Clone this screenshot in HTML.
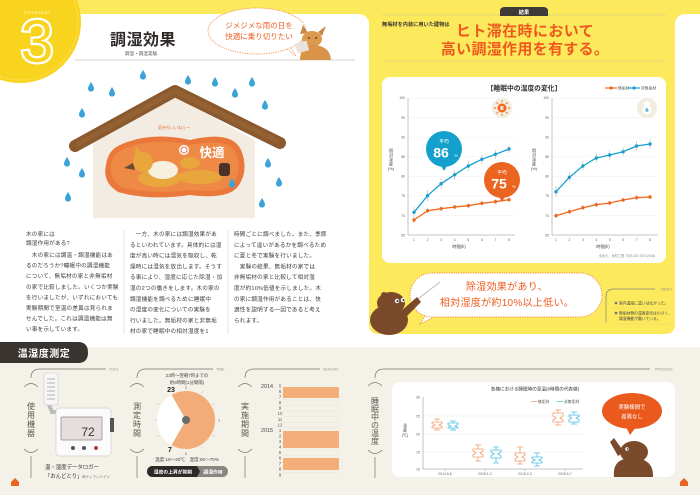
<!DOCTYPE html>
<html><head><meta charset="utf-8"><style>
html,body{margin:0;padding:0;background:#fff;}
svg{display:block;}
text{font-family:"Liberation Sans","Noto Sans CJK JP",sans-serif;}
</style></head><body>
<svg width="700" height="495" viewBox="0 0 700 495" xmlns="http://www.w3.org/2000/svg">
<defs>
<path id="drop" d="M0,-5 Q3,-0.5 3,1.6 A3,3 0 0 1 -3,1.6 Q-3,-0.5 0,-5 Z" fill="#3aa3d8"/>
</defs>
<!-- backgrounds -->
<rect width="700" height="495" fill="#fff"/>
<rect x="0" y="0" width="700" height="14" fill="#fde95c"/>
<path d="M369,0 H675 V324 Q675,334 665,334 H379 Q369,334 369,324 Z" fill="#fde95c"/>
<path d="M359,14 L369,14 L369,24 A10,10 0 0 0 359,14 Z" fill="#fde95c"/>
<path d="M685,14 L675,14 L675,24 A10,10 0 0 1 685,14 Z" fill="#fde95c"/>
<rect x="0" y="347" width="700" height="148" fill="#f4f1e8"/>

<!-- header left -->
<line x1="75" y1="60" x2="355" y2="60" stroke="#e4e2dc" stroke-width="1.5"/>
<circle cx="20" cy="22" r="61" fill="#f8d41f"/>
<circle cx="20" cy="22" r="58" fill="none" stroke="#fff5b8" stroke-width="0.8" stroke-dasharray="0.8 1.6"/>
<text x="37" y="14" font-size="3.6" fill="#fff7c4" text-anchor="middle" letter-spacing="0.3">EXPERIMENT</text>
<text x="37" y="62" font-size="60" fill="#f8d41f" stroke="#fff" stroke-width="4" paint-order="stroke" text-anchor="middle">3</text>
<text x="37" y="62" font-size="60" fill="none" stroke="#fff" stroke-width="0.6" text-anchor="middle" opacity="0.8">3</text>
<text x="143" y="45" font-size="16" font-weight="bold" fill="#2e2a28" text-anchor="middle" letter-spacing="0.5">調湿効果</text>
<text x="141" y="55" font-size="4.6" fill="#555" text-anchor="middle">調温・調湿実験</text>

<!-- top speech bubble -->
<path d="M287,49 L296,56 L289,45 Z" fill="#fff" stroke="#f08a4a" stroke-width="0.8" stroke-dasharray="1.2 1.2"/>
<ellipse cx="257" cy="31" rx="49" ry="23" fill="#fff" stroke="#f08a4a" stroke-width="0.9" stroke-dasharray="1.2 1.2"/>
<text x="259" y="28" font-size="7.5" fill="#ee5d22" text-anchor="middle">ジメジメな雨の日を</text>
<text x="259" y="39" font-size="7.5" fill="#ee5d22" text-anchor="middle">快適に乗り切りたい</text>
<!-- fox top -->
<g>
<path d="M300,34 L303,25 L308,33 Z" fill="#c98a45"/>
<path d="M318,32 L326,26 L322,36 Z" fill="#c98a45"/>
<ellipse cx="312" cy="39" rx="10" ry="8" fill="#dc9a4c"/>
<path d="M300,60 Q300,44 314,45 Q330,46 331,60 Z" fill="#d9944a"/>
<rect x="296" y="42" width="12" height="10" fill="#e8e4dc" transform="rotate(-15 302 47)"/>
<circle cx="309" cy="38" r="0.9" fill="#333"/><circle cx="316" cy="38" r="0.9" fill="#333"/>
</g>

<!-- house illustration -->
<polygon points="93,140 175,97 255,140 255,218 93,218" fill="#f3ece2"/>
<path d="M120,145 Q150,131 190,140 Q232,130 241,150 Q249,170 239,185 Q230,200 190,195 Q150,201 118,192 Q102,182 106,165 Q108,150 120,145 Z" fill="#e9783a"/>
<path d="M124,149 Q152,137 190,145 Q228,137 236,153 Q242,170 234,182 Q226,194 190,190 Q152,195 121,187 Q109,179 111,165 Q113,153 124,149 Z" fill="#ef8a46"/>
<!-- fox sleeping -->
<ellipse cx="160" cy="178" rx="22" ry="9" fill="#e8a63c"/>
<ellipse cx="163" cy="170" rx="15" ry="9" fill="#f6f0dc"/>
<circle cx="143" cy="162" r="10" fill="#e8a63c"/>
<path d="M134,158 L136,146 L142,154 Z" fill="#e8a63c"/>
<path d="M124,168 L133,163 L135,170 Z" fill="#6a4a33"/>
<ellipse cx="200" cy="177" rx="22" ry="7" fill="#e8a63c"/>
<ellipse cx="190" cy="163" rx="10" ry="6" fill="#e8a63c"/>
<rect x="219" y="163" width="11" height="13" rx="3" fill="#4b3127"/>
<circle cx="184" cy="150" r="5" fill="#fff"/><circle cx="184" cy="150" r="3" fill="none" stroke="#d9452a" stroke-width="0.8"/>
<text x="212" y="157" font-size="12.5" font-weight="bold" fill="#fff" text-anchor="middle">快適</text>
<text x="174" y="129" font-size="4" fill="#e0733a" text-anchor="middle">気持ちいいねぇ〜</text>
<path d="M75,146 L175,91 L280,143" fill="none" stroke="#8a5a2e" stroke-width="12" stroke-linecap="round" stroke-linejoin="round"/>
<path d="M78,144 L175,91 L277,141" fill="none" stroke="#9a6636" stroke-width="5" stroke-linecap="round" stroke-linejoin="round" opacity="0.6"/>
<!-- raindrops -->
<use href="#drop" x="143" y="75"/><use href="#drop" x="91" y="87"/><use href="#drop" x="112" y="92"/>
<use href="#drop" x="188" y="80"/><use href="#drop" x="215" y="82"/><use href="#drop" x="235" y="93"/>
<use href="#drop" x="252" y="82"/><use href="#drop" x="265" y="105"/><use href="#drop" x="82" y="113"/>
<use href="#drop" x="67" y="162"/><use href="#drop" x="82" y="173"/><use href="#drop" x="68" y="197"/>
<use href="#drop" x="268" y="163"/><use href="#drop" x="279" y="182"/><use href="#drop" x="262" y="203"/>
<use href="#drop" x="232" y="183"/>

<!-- body text columns -->
<g font-size="5.6" fill="#3f3b38" letter-spacing="0.2">
<text x="26" y="236">木の家には</text>
<text x="26" y="245">調湿作用がある?</text>
<text x="26" y="257">　木の家には調温・調湿機能はあ</text>
<text x="26" y="267.6">るのだろうか?睡眠中の調湿機能</text>
<text x="26" y="278.2">について、無垢材の家と非無垢材</text>
<text x="26" y="288.8">の家で比較しました。いくつか実験</text>
<text x="26" y="299.4">を行いましたが、いずれにおいても</text>
<text x="26" y="310">実験期間で室温の差異は見られま</text>
<text x="26" y="320.6">せんでした。これは調温機能は無</text>
<text x="26" y="331.2">い事を示しています。</text>

<text x="130" y="236">　一方、木の家には調湿効果があ</text>
<text x="130" y="246.8">るといわれています。具体的には湿</text>
<text x="130" y="257.6">度が高い時には湿気を吸収し、乾</text>
<text x="130" y="268.4">燥時には湿気を放出します。そうす</text>
<text x="130" y="279.2">る事により、湿度に応じた除湿・加</text>
<text x="130" y="290">湿の2つの働きをします。木の家の</text>
<text x="130" y="300.8">調湿機能を調べるために睡眠中</text>
<text x="130" y="311.6">の湿度の変化についての実験を</text>
<text x="130" y="322.4">行いました。無垢材の家と非無垢</text>
<text x="130" y="333.2">材の家で睡眠中の相対湿度を1</text>

<text x="234" y="236">時間ごとに調べました。また、季節</text>
<text x="234" y="246.8">によって違いがあるかを調べるため</text>
<text x="234" y="257.6">に夏と冬で実験を行いました。</text>
<text x="234" y="268.4">　実験の結果、無垢材の家では</text>
<text x="234" y="279.2">非無垢材の家と比較して相対湿</text>
<text x="234" y="290">度が約10%低値を示しました。木</text>
<text x="234" y="300.8">の家に調湿作用があることは、快</text>
<text x="234" y="311.6">適性を説明する一因であると考え</text>
<text x="234" y="322.4">られます。</text>
</g>
<line x1="124" y1="230" x2="124" y2="334" stroke="#d8d6d2" stroke-width="0.6"/>
<line x1="228" y1="230" x2="228" y2="334" stroke="#d8d6d2" stroke-width="0.6"/>

<!-- right page header -->
<line x1="382" y1="15" x2="666" y2="15" stroke="#d9cf8a" stroke-width="0.8"/>
<line x1="382" y1="61" x2="666" y2="61" stroke="#d9cf8a" stroke-width="0.8"/>
<path d="M500,16 V11 Q500,7 505,7 H543 Q548,7 548,11 V16 Z" fill="#3d3a38"/>
<text x="524" y="14" font-size="5.2" fill="#fff" text-anchor="middle" font-weight="bold">結果</text>
<text x="382" y="26" font-size="5.2" fill="#3a3530" font-weight="bold">無垢材を内装に用いた建物は</text>
<text x="525" y="36" font-size="15" font-weight="bold" fill="#ee5a1e" text-anchor="middle" letter-spacing="0.4">ヒト滞在時において</text>
<text x="525" y="54" font-size="15" font-weight="bold" fill="#ee5a1e" text-anchor="middle" letter-spacing="0.3">高い調湿作用を有する。</text>

<!-- chart card -->
<rect x="382" y="77" width="284" height="186" rx="8" fill="#fff"/>
<text x="524" y="90.5" font-size="6.8" font-weight="bold" fill="#333" text-anchor="middle">【睡眠中の湿度の変化】</text>
<line x1="605" y1="88" x2="617" y2="88" stroke="#ee6a22" stroke-width="1.2"/><circle cx="611" cy="88" r="1.6" fill="#ee6a22"/>
<text x="618" y="89.5" font-size="3.8" fill="#555">無垢材</text>
<line x1="628" y1="88" x2="640" y2="88" stroke="#19a0cf" stroke-width="1.2"/><circle cx="634" cy="88" r="1.6" fill="#19a0cf"/>
<text x="641" y="89.5" font-size="3.8" fill="#555">非無垢材</text>

<!-- left chart -->
<g stroke="#f0efec" stroke-width="0.5">
<line x1="408" y1="98" x2="515" y2="98"/><line x1="408" y1="117.6" x2="515" y2="117.6"/><line x1="408" y1="137.2" x2="515" y2="137.2"/><line x1="408" y1="156.8" x2="515" y2="156.8"/><line x1="408" y1="176.4" x2="515" y2="176.4"/><line x1="408" y1="196" x2="515" y2="196"/><line x1="408" y1="215.6" x2="515" y2="215.6"/>
<line x1="552" y1="98" x2="658" y2="98"/><line x1="552" y1="117.6" x2="658" y2="117.6"/><line x1="552" y1="137.2" x2="658" y2="137.2"/><line x1="552" y1="156.8" x2="658" y2="156.8"/><line x1="552" y1="176.4" x2="658" y2="176.4"/><line x1="552" y1="196" x2="658" y2="196"/><line x1="552" y1="215.6" x2="658" y2="215.6"/>
</g>
<g stroke="#888" stroke-width="0.5">
<line x1="408" y1="98" x2="408" y2="235"/><line x1="408" y1="235" x2="515" y2="235"/>
<line x1="552" y1="98" x2="552" y2="235"/><line x1="552" y1="235" x2="658" y2="235"/>
</g>
<g font-size="3.4" fill="#666" text-anchor="end">
<text x="405" y="99.2">100</text><text x="405" y="118.8">95</text><text x="405" y="138.4">90</text><text x="405" y="158">85</text><text x="405" y="177.6">80</text><text x="405" y="197.2">75</text><text x="405" y="216.8">70</text><text x="405" y="236.4">65</text>
<text x="549" y="99.2">100</text><text x="549" y="118.8">95</text><text x="549" y="138.4">90</text><text x="549" y="158">85</text><text x="549" y="177.6">80</text><text x="549" y="197.2">75</text><text x="549" y="216.8">70</text><text x="549" y="236.4">65</text>
</g>
<g font-size="3.4" fill="#666" text-anchor="middle">
<text x="414" y="241">1</text><text x="427.6" y="241">2</text><text x="441.1" y="241">3</text><text x="454.7" y="241">4</text><text x="468.3" y="241">5</text><text x="481.9" y="241">6</text><text x="495.4" y="241">7</text><text x="509" y="241">8</text>
<text x="556" y="241">1</text><text x="569.4" y="241">2</text><text x="582.9" y="241">3</text><text x="596.3" y="241">4</text><text x="609.7" y="241">5</text><text x="623.1" y="241">6</text><text x="636.6" y="241">7</text><text x="650" y="241">8</text>
</g>
<text x="459" y="248" font-size="4.2" fill="#444" text-anchor="middle">時間(h)</text>
<text x="603" y="248" font-size="4.2" fill="#444" text-anchor="middle">時間(h)</text>
<g font-size="4" fill="#444" text-anchor="middle">
<text x="391" y="152">相</text><text x="391" y="156.5">対</text><text x="391" y="161">湿</text><text x="391" y="165.5">度</text><text x="391" y="170">(%)</text>
<text x="534" y="152">相</text><text x="534" y="156.5">対</text><text x="534" y="161">湿</text><text x="534" y="165.5">度</text><text x="534" y="170">(%)</text>
</g>
<text x="627" y="257" font-size="3.2" fill="#888" text-anchor="middle">清水ら、木材工業 73(5) 187-192 (2018)</text>

<!-- error bars -->
<g stroke="#aaa" stroke-width="0.5" fill="none">
<path d="M414,207 V218 M427.6,190 V201 M441.1,178 V189 M454.7,170 V180 M468.3,161 V171 M481.9,155 V164 M495.4,150 V159 M509,145 V153"/>
<path d="M414,218 V223 M427.6,208 V213 M441.1,206 V211 M454.7,205 V209 M468.3,203 V208 M481.9,201 V206 M495.4,199 V204 M509,197 V202"/>
<path d="M556,186 V197 M569.4,172 V182 M582.9,161 V171 M596.3,153 V163 M609.7,150 V160 M623.1,147 V156 M636.6,141 V151 M650,139 V149"/>
<path d="M556,213 V218 M569.4,209 V214 M582.9,205 V210 M596.3,202 V207 M609.7,201 V205 M623.1,198 V202 M636.6,195 V200 M650,195 V199"/>
</g>
<polyline points="414,220 427.6,210.7 441.1,208.7 454.7,207 468.3,205.7 481.9,203.3 495.4,201.7 509,199.7" fill="none" stroke="#ee6a22" stroke-width="1.3"/>
<polyline points="414,212.3 427.6,195.7 441.1,183.7 454.7,174.7 468.3,166 481.9,159.3 495.4,154.3 509,149" fill="none" stroke="#19a0cf" stroke-width="1.3"/>
<polyline points="556,215.7 569.4,211.7 582.9,207.7 596.3,204.7 609.7,203 623.1,200 636.6,197.7 650,197" fill="none" stroke="#ee6a22" stroke-width="1.3"/>
<polyline points="556,191.7 569.4,177.3 582.9,166 596.3,158 609.7,155 623.1,151.7 636.6,146 650,144" fill="none" stroke="#19a0cf" stroke-width="1.3"/>
<g fill="#ee6a22">
<circle cx="414" cy="220" r="1.7"/><circle cx="427.6" cy="210.7" r="1.7"/><circle cx="441.1" cy="208.7" r="1.7"/><circle cx="454.7" cy="207" r="1.7"/><circle cx="468.3" cy="205.7" r="1.7"/><circle cx="481.9" cy="203.3" r="1.7"/><circle cx="495.4" cy="201.7" r="1.7"/><circle cx="509" cy="199.7" r="1.7"/>
<circle cx="556" cy="215.7" r="1.7"/><circle cx="569.4" cy="211.7" r="1.7"/><circle cx="582.9" cy="207.7" r="1.7"/><circle cx="596.3" cy="204.7" r="1.7"/><circle cx="609.7" cy="203" r="1.7"/><circle cx="623.1" cy="200" r="1.7"/><circle cx="636.6" cy="197.7" r="1.7"/><circle cx="650" cy="197" r="1.7"/>
</g>
<g fill="#19a0cf">
<circle cx="414" cy="212.3" r="1.7"/><circle cx="427.6" cy="195.7" r="1.7"/><circle cx="441.1" cy="183.7" r="1.7"/><circle cx="454.7" cy="174.7" r="1.7"/><circle cx="468.3" cy="166" r="1.7"/><circle cx="481.9" cy="159.3" r="1.7"/><circle cx="495.4" cy="154.3" r="1.7"/><circle cx="509" cy="149" r="1.7"/>
<circle cx="556" cy="191.7" r="1.7"/><circle cx="569.4" cy="177.3" r="1.7"/><circle cx="582.9" cy="166" r="1.7"/><circle cx="596.3" cy="158" r="1.7"/><circle cx="609.7" cy="155" r="1.7"/><circle cx="623.1" cy="151.7" r="1.7"/><circle cx="636.6" cy="146" r="1.7"/><circle cx="650" cy="144" r="1.7"/>
</g>
<!-- average bubbles -->
<path d="M440,164 L444,171 L448,164 Z" fill="#14a0cc"/>
<circle cx="444" cy="149" r="18" fill="#14a0cc"/>
<text x="444" y="143" font-size="4.8" fill="#fff" text-anchor="middle">平均</text>
<text x="441" y="157.5" font-size="14" font-weight="bold" fill="#fff" text-anchor="middle">86</text>
<text x="454" y="157" font-size="4" fill="#fff">%</text>
<path d="M498,195 L502,202 L506,195 Z" fill="#ec6520"/>
<circle cx="502" cy="180" r="18" fill="#ec6520"/>
<text x="502" y="174" font-size="4.8" fill="#fff" text-anchor="middle">平均</text>
<text x="499" y="188.5" font-size="14" font-weight="bold" fill="#fff" text-anchor="middle">75</text>
<text x="512" y="188" font-size="4" fill="#fff">%</text>
<!-- season icons -->
<circle cx="502" cy="108" r="10" fill="#f2ede0"/>
<g stroke="#ee6a22" stroke-width="0.9" fill="none"><path d="M502,100 V102 M502,114 V116 M494,108 H496 M508,108 H510 M496.5,102.5 L498,104 M506,112 L507.5,113.5 M507.5,102.5 L506,104 M498,112 L496.5,113.5"/></g>
<circle cx="502" cy="108" r="4.5" fill="#ee6a22"/>
<text x="502" y="109.6" font-size="4.2" fill="#fff" text-anchor="middle" font-weight="bold">夏</text>
<circle cx="647" cy="108" r="10" fill="#f2ede0"/>
<circle cx="647" cy="104" r="3" fill="#fff"/><circle cx="647" cy="110" r="4.5" fill="#fff"/>
<text x="647" y="111.5" font-size="4" fill="#19a0cf" text-anchor="middle" font-weight="bold">冬</text>

<!-- bottom speech bubble -->
<path d="M428,312 L420,324 L438,315 Z" fill="#fff" stroke="#f08a4a" stroke-width="0.8" stroke-dasharray="1.2 1.2"/>
<rect x="410" y="273" width="192" height="44" rx="22" fill="#fff" stroke="#f08a4a" stroke-width="0.9" stroke-dasharray="1.2 1.2"/>
<text x="507" y="290" font-size="10" fill="#ee5a1e" text-anchor="middle" letter-spacing="0.3">除湿効果があり、</text>
<text x="507" y="306" font-size="10" fill="#ee5a1e" text-anchor="middle" letter-spacing="0.3">相対湿度が約10%以上低い。</text>
<!-- bear left -->
<line x1="414" y1="302" x2="440" y2="282" stroke="#bbb" stroke-width="1"/>
<path d="M400,312 L417,297 L421,302 L405,318 Z" fill="#7b4a2b"/>
<ellipse cx="389" cy="320" rx="19" ry="15" fill="#7b4a2b"/>
<ellipse cx="391" cy="303" rx="14" ry="11" fill="#7b4a2b"/>
<circle cx="384" cy="295" r="3" fill="#7b4a2b"/>
<circle cx="397" cy="301" r="2.2" fill="#fff"/><circle cx="403" cy="300" r="2.2" fill="#fff"/>
<circle cx="397.5" cy="301" r="1" fill="#222"/><circle cx="403.5" cy="300" r="1" fill="#222"/>
<!-- memo -->
<path d="M606,323 V297 Q606,289 614,289 H655" fill="none" stroke="#8a847a" stroke-width="0.7"/>
<text x="672" y="290.5" font-size="3.6" fill="#9a9488" text-anchor="end">MEMO</text>
<circle cx="616" cy="303" r="1.3" fill="#6a6a8a"/>
<text x="619" y="304.5" font-size="3.8" fill="#444">室内温度に違いはなかった。</text>
<line x1="612" y1="308" x2="675" y2="308" stroke="#e8d871" stroke-width="0.5"/>
<circle cx="616" cy="313" r="1.3" fill="#6a6a8a"/>
<text x="619" y="314.5" font-size="3.8" fill="#444">無垢材側の湿度変化は小さく、</text>
<text x="619" y="320" font-size="3.8" fill="#444">調湿機能が働いている。</text>
<line x1="612" y1="324" x2="675" y2="324" stroke="#e8d871" stroke-width="0.5"/>

<!-- bottom section tab -->
<path d="M0,342 H78 Q88,342 88,352.5 Q88,363 78,363 H0 Z" fill="#3a3431"/>
<text x="44" y="357" font-size="10" font-weight="bold" fill="#fff" text-anchor="middle" letter-spacing="0.5">温湿度測定</text>

<!-- section headers -->
<g fill="none" stroke="#7a756e" stroke-width="0.7">
<path d="M31,378 Q31,369 40,369 H106"/>
<path d="M24,387 Q31,380 38,387"/><path d="M24,449 Q31,456 38,449"/><path d="M31,456 V478"/>
<path d="M137,378 Q137,369 146,369 H213"/>
<path d="M130,387 Q137,380 144,387"/><path d="M130,449 Q137,456 144,449"/><path d="M137,456 V478"/>
<path d="M245,378 Q245,369 254,369 H320"/>
<path d="M238,387 Q245,380 252,387"/><path d="M238,449 Q245,456 252,449"/><path d="M245,456 V478"/>
<path d="M375,378 Q375,369 384,369 H650"/>
<path d="M368,386 Q375,379 382,386"/><path d="M368,450 Q375,457 382,450"/><path d="M375,457 V478"/>
</g>
<g font-size="3.6" fill="#9a958c">
<text x="109" y="370.3">TOOL</text>
<text x="216" y="370.3">TIME</text>
<text x="323" y="370.3">SEASON</text>
<text x="655" y="370.3">PROCESS</text>
</g>
<g font-size="8" fill="#5a5550" text-anchor="middle">
<text x="31" y="409">使</text><text x="31" y="418">用</text><text x="31" y="427">機</text><text x="31" y="436">器</text>
<text x="137" y="409">測</text><text x="137" y="418">定</text><text x="137" y="427">時</text><text x="137" y="436">間</text>
<text x="245" y="409">実</text><text x="245" y="418">施</text><text x="245" y="427">期</text><text x="245" y="436">間</text>
<text x="375" y="404">睡</text><text x="375" y="412">眠</text><text x="375" y="420">中</text><text x="375" y="428">の</text><text x="375" y="436">温</text><text x="375" y="444">度</text>
</g>

<!-- device -->
<path d="M48,402 L52,412 L60,412" fill="none" stroke="#bdbdbd" stroke-width="4"/>
<rect x="44" y="373" width="14" height="32" rx="1.5" fill="#f7f7f7" stroke="#c9c9c9" stroke-width="0.6"/>
<g stroke="#9a9a9a" stroke-width="0.8" fill="none"><path d="M47,379 H55 M47,383 H55 M47,387 H55 M47,391 H55 M47,395 H55 M47,399 H55"/></g>
<rect x="56" y="408" width="55" height="48" rx="4" fill="#fbfbfb" stroke="#cfcfcf" stroke-width="0.7"/>
<rect x="110" y="418" width="4" height="14" fill="#555"/>
<rect x="61" y="417" width="41" height="23" rx="1" fill="#e5dedd" stroke="#888" stroke-width="0.7"/>
<text x="88" y="436" font-size="12" fill="#333" text-anchor="middle">72</text>
<circle cx="73" cy="448" r="2" fill="#555"/><circle cx="84" cy="448" r="2" fill="#555"/><circle cx="96" cy="448" r="2" fill="#c33"/>
<text x="45" y="469" font-size="5.4" fill="#333">温・湿度データロガー</text>
<text x="45" y="478" font-size="5.4" fill="#333">「おんどとり」</text>
<text x="82" y="478" font-size="3.6" fill="#777">㈱ティアンドデイ</text>

<!-- clock -->
<text x="187" y="377" font-size="4.4" fill="#444" text-anchor="middle">23時〜翌朝7時までの</text>
<text x="187" y="384" font-size="4.4" fill="#444" text-anchor="middle">約8時間(1分間隔)</text>
<circle cx="186" cy="420" r="29" fill="#fff"/>
<path d="M186,420 L171.5,394.9 A29,29 0 1 1 171.5,445.1 Z" fill="#f3ac78"/>
<circle cx="186" cy="420" r="4" fill="#6b6b6b"/>
<g stroke="#aaa" stroke-width="0.6" fill="none">
<path d="M201.5,393.2 L202.5,391.4 M212.8,404.5 L214.6,403.5 M212.8,435.5 L214.6,436.5 M201.5,446.8 L202.5,448.6 M159.2,435.5 L157.4,436.5 M159.2,404.5 L157.4,403.5 M155,420 H157"/>
</g>
<g font-size="4" fill="#777" text-anchor="middle"><text x="186" y="389">0</text><text x="219" y="421.5">3</text><text x="186" y="455">6</text></g>
<text x="171" y="392" font-size="7" font-weight="bold" fill="#222" text-anchor="middle">23</text>
<text x="170" y="452" font-size="7" font-weight="bold" fill="#222" text-anchor="middle">7</text>
<text x="187" y="461" font-size="4.6" fill="#444" text-anchor="middle">温度:18〜20℃　湿度:60〜70%</text>
<rect x="147" y="466" width="81" height="11" rx="5.5" fill="#8a8581"/>
<path d="M152.5,466 H197 L200,471.5 L197,477 H152.5 A5.5,5.5 0 0 1 152.5,466 Z" fill="#2f2a28"/>
<text x="173" y="473.3" font-size="4.8" font-weight="bold" fill="#fff" text-anchor="middle">湿度の上昇が抑制</text>
<text x="213" y="473.3" font-size="4.8" font-weight="bold" fill="#fff" text-anchor="middle">調湿作用</text>

<!-- season -->
<g stroke="#e2ded6" stroke-width="0.4" fill="none">
<path d="M283,388.8 H339 M283,394.4 H339 M283,400 H339 M283,405.5 H339 M283,411 H339 M283,416.6 H339 M283,422.2 H339 M283,427.8 H339 M283,433.3 H339 M283,438.9 H339 M283,444.4 H339 M283,450 H339 M283,455.5 H339 M283,461 H339 M283,466.6 H339 M283,472.2 H339"/>
</g>
<rect x="283" y="387" width="56" height="11" fill="#f3ae7a"/>
<rect x="283" y="431" width="56" height="17" fill="#f3ae7a"/>
<rect x="283" y="458" width="56" height="12" fill="#f3ae7a"/>
<text x="267" y="388" font-size="5.4" fill="#444" text-anchor="middle">2014</text>
<text x="267" y="432" font-size="5.4" fill="#444" text-anchor="middle">2015</text>
<g font-size="4.2" fill="#555" text-anchor="middle">
<text x="280" y="387.5">5</text><text x="280" y="393">6</text><text x="280" y="398.6">7</text><text x="280" y="404.1">8</text><text x="280" y="409.7">9</text><text x="280" y="415.2">10</text><text x="280" y="420.8">11</text><text x="280" y="426.3">12</text><text x="280" y="431.9">1</text><text x="280" y="437.4">2</text><text x="280" y="443">3</text><text x="280" y="448.5">4</text><text x="280" y="454.1">5</text><text x="280" y="459.6">6</text><text x="280" y="465.2">7</text><text x="280" y="470.7">8</text><text x="280" y="476.3">9</text>
</g>

<!-- process card -->
<rect x="392" y="382" width="283" height="95" rx="8" fill="#fff"/>
<text x="535" y="390.5" font-size="4.6" fill="#333" text-anchor="middle">各棟における睡眠時の室温(8時間の代表値)</text>
<g stroke="#eeece8" stroke-width="0.5" fill="none"><path d="M423,416 H583 M423,434 H583 M423,452 H583"/></g>
<g stroke="#888" stroke-width="0.5" fill="none"><path d="M423,397 V469 H583 M445,469 V471 M485,469 V471 M525,469 V471 M565,469 V471"/></g>
<g font-size="3.6" fill="#666" text-anchor="end">
<text x="420" y="398.3">30</text><text x="420" y="417.3">25</text><text x="420" y="435.3">20</text><text x="420" y="453.3">15</text><text x="420" y="470.3">10</text>
</g>
<g font-size="3.4" fill="#666" text-anchor="middle">
<text x="445" y="475">2014.5-6</text><text x="485" y="475">2015.1-2</text><text x="525" y="475">2015.2-3</text><text x="565" y="475">2015.6-7</text>
</g>
<g font-size="4" fill="#444" text-anchor="middle"><text x="405" y="427">温</text><text x="405" y="431.5">度</text><text x="405" y="436.5">(℃)</text></g>
<line x1="531" y1="401.5" x2="537" y2="401.5" stroke="#f29a6c" stroke-width="0.8"/>
<text x="538" y="403" font-size="3.8" fill="#555">無垢材</text>
<line x1="557" y1="401.5" x2="563" y2="401.5" stroke="#4fc0e6" stroke-width="0.8"/>
<text x="564" y="403" font-size="3.8" fill="#555">非無垢材</text>
<g fill="none" stroke-width="0.8">
<g stroke="#f29a6c">
<path d="M432,422 H442 V423.5 L439,425 L442,426.5 V428 H432 V426.5 L435,425 L432,423.5 Z M437,419 V422 M437,428 V430 M434,419 H440 M434,430 H440"/>
<path d="M473,449 H483 V451 L480,453 L483,455 V457 H473 V455 L476,453 L473,451 Z M478,445 V449 M478,457 V461 M475,445 H481 M475,461 H481"/>
<path d="M515,453 H525 V455 L522,457 L525,459 V461 H515 V459 L518,457 L515,455 Z M520,447 V453 M520,461 V464 M517,447 H523 M517,464 H523"/>
<path d="M553,413 H563 V416 L560,418 L563,420 V422 H553 V420 L556,418 L553,416 Z M558,410 V413 M558,422 V425 M555,410 H561 M555,425 H561"/>
</g>
<g stroke="#4fc0e6">
<path d="M448,423 H458 V424.5 L455,426 L458,427.5 V428 H448 V427.5 L451,426 L448,424.5 Z M453,421 V423 M453,428 V430 M450,421 H456 M450,430 H456"/>
<path d="M491,450 H501 V452 L498,454 L501,456 V458 H491 V456 L494,454 L491,452 Z M496,447 V450 M496,458 V463 M493,447 H499 M493,463 H499"/>
<path d="M532,457 H542 V458.5 L539,460 L542,461.5 V463 H532 V461.5 L535,460 L532,458.5 Z M537,453 V457 M537,463 V466 M534,453 H540 M534,466 H540"/>
<path d="M569,415 H579 V416.5 L576,418 L579,419.5 V422 H569 V419.5 L572,418 L569,416.5 Z M574,412 V415 M574,422 V424 M571,412 H577 M571,424 H577"/>
</g>
</g>
<!-- orange bubble -->
<path d="M626,427 L630,435 L636,427 Z" fill="#e95a1c"/>
<ellipse cx="632" cy="411" rx="30" ry="18" fill="#e95a1c"/>
<text x="632" y="409" font-size="5.4" fill="#fff" text-anchor="middle">実験棟間で</text>
<text x="632" y="418.5" font-size="5.4" fill="#fff" text-anchor="middle">差異なし</text>
<!-- bear bottom right -->
<path d="M610,442 L614,438 L624,452 L618,456 Z" fill="#7b4a2b"/>
<ellipse cx="634" cy="452" rx="14" ry="11" fill="#7b4a2b"/>
<path d="M614,477 Q612,458 632,458 Q654,458 653,477 Z" fill="#7b4a2b"/>
<circle cx="627" cy="449" r="1.8" fill="#fff"/><circle cx="627.5" cy="449" r="0.8" fill="#222"/>

<!-- page icons -->
<path d="M11,482 L15,478 L19,482 V486 H11 Z" fill="#ec6520"/>
<path d="M680,482 L684,478 L688,482 V486 H680 Z" fill="#ec6520"/>
</svg>
</body></html>
